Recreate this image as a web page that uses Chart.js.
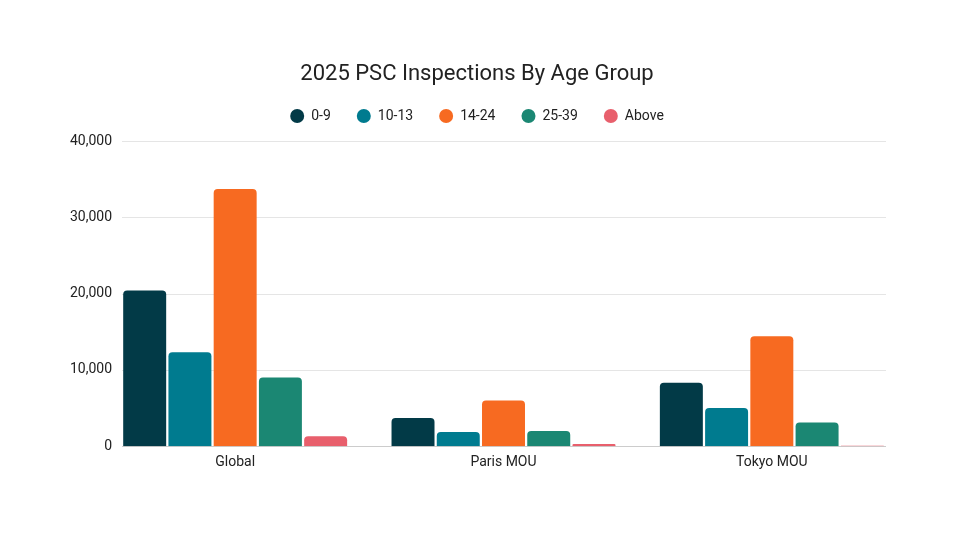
<!DOCTYPE html>
<html>
<head>
<meta charset="utf-8">
<script src="https://cdn.jsdelivr.net/npm/chart.js@4/dist/chart.umd.min.js"></script>
<style>
  html, body { margin: 0; padding: 0; background: #fff; }
  #wrap { width: 954px; height: 536px; }
</style>
</head>
<body>
<div id="wrap"><canvas id="ageChart"></canvas></div>
<script>
// data
const regions = ['Global', 'Paris MOU', 'Tokyo MOU'];
const ageGroups = ['0-9', '10-13', '14-24', '25-39', 'Above'];
const age0to9 = [20400, 3700, 8300];
const age10to13 = [12300, 1850, 5000];
const age14to24 = [33700, 6000, 14400];
const age25to39 = [9000, 2000, 3100];
const ageAbove = [1300, 300, 50];
const yTicks = [0, 10000, 20000, 30000, 40000];

const colors = ['#023a47', '#007b8f', '#f76a21', '#1b8773', '#e85f6c'];
const seriesValues = [age0to9, age10to13, age14to24, age25to39, ageAbove];

// gridlines only across the bar area (Sheets style), from the y scale
const gridLeft = 122, gridRight = 886;
const shortGrid = {
    id: 'shortGrid',
    beforeDatasetsDraw(chart) {
        const y = chart.scales.y;
        const ctx = chart.ctx;
        ctx.save();
        yTicks.forEach(v => {
            const py = Math.round(y.getPixelForValue(v)) + 0.5;
            ctx.strokeStyle = v === 0 ? '#cccccc' : '#e5e5e5';
            ctx.lineWidth = 1;
            ctx.beginPath();
            ctx.moveTo(gridLeft, py);
            ctx.lineTo(gridRight, py);
            ctx.stroke();
        });
        ctx.restore();
    }
};

const font = "Roboto, 'Noto Sans', sans-serif";
const emptyAxis = {
    grid: { display: false, drawTicks: false },
    border: { display: false },
    ticks: { display: false }
};

new Chart(document.getElementById('ageChart'), {
    type: 'bar',
    data: {
        labels: regions,
        datasets: ageGroups.map((g, i) => ({
            label: g,
            data: seriesValues[i],
            backgroundColor: colors[i],
            borderRadius: { topLeft: 4, topRight: 4 },
            borderSkipped: 'start',
            categoryPercentage: 0.843,
            barPercentage: 0.95
        }))
    },
    options: {
        responsive: true,
        maintainAspectRatio: false,
        animation: false,
        layout: { padding: { left: 0, right: 0, top: 0, bottom: 57 } },
        scales: {
            x: {
                grid: { display: false, drawTicks: false },
                border: { display: false },
                ticks: { color: '#222', font: { family: font, size: 14 }, padding: 8 }
            },
            y: {
                min: 0,
                max: 40000,
                afterFit: s => {
                    s.width = 101;
                    // labels sit a bit right of the scale box, so don't clip them
                    s._computeLabelArea = () => undefined;
                },
                afterBuildTicks: s => { s.ticks = yTicks.map(v => ({ value: v })); },
                grid: { display: false, drawTicks: false },
                border: { display: false },
                ticks: {
                    color: '#222',
                    font: { family: font, size: 14 },
                    padding: -11,
                    callback: v => v.toLocaleString('en-US')
                }
            },
            // empty spacers: keep title/legend centred and leave a gap under the legend
            spacer: Object.assign({ position: 'right', afterFit: s => { s.width = 48; } }, emptyAxis),
            spacerTop: Object.assign({ axis: 'x', position: 'top', afterFit: s => { s.height = 8; } }, emptyAxis)
        },
        plugins: {
            title: {
                display: true,
                text: '2025 PSC Inspections By Age Group',
                color: '#222',
                font: { family: font, size: 22, weight: 'normal', lineHeight: 1 },
                padding: { top: 63, bottom: -2 }
            },
            legend: {
                labels: {
                    usePointStyle: true,
                    pointStyle: 'circle',
                    pointStyleWidth: 14,
                    boxHeight: 10,
                    padding: 26,
                    color: '#222',
                    font: { family: font, size: 14 }
                }
            },
            tooltip: { enabled: false }
        }
    },
    plugins: [shortGrid]
});
</script>
</body>
</html>
